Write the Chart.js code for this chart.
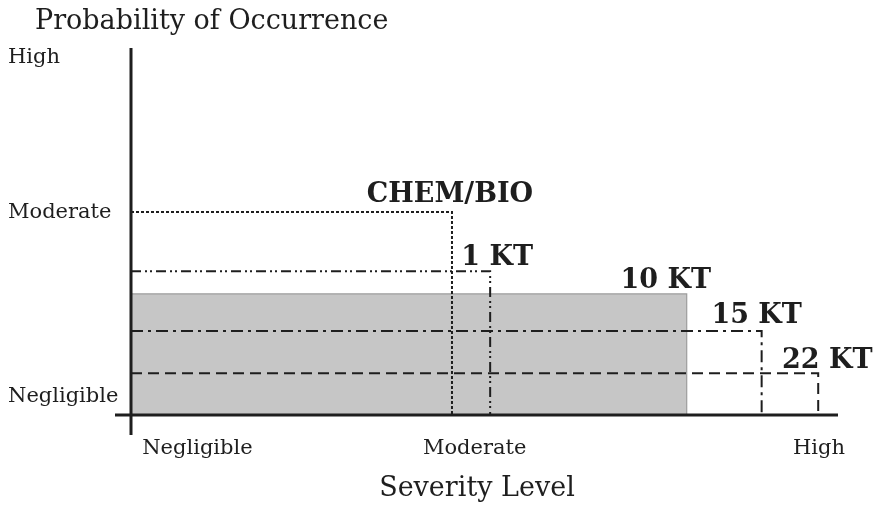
<!DOCTYPE html>
<html><head><meta charset="utf-8">
<script src="https://cdn.jsdelivr.net/npm/chart.js@4"></script>
<style>html,body{margin:0;padding:0;background:#fff}#wrap{width:877px;height:506px;position:relative}</style>
</head><body><div id="wrap"><canvas id="c"></canvas></div>
<script>
// ---- data ----
const threats = ['CHEM/BIO', '1 KT', '10 KT', '15 KT', '22 KT'];
const severity = [4.54, 5.08, 7.86, 8.92, 9.72];      // right edge of each region (severity)
const probability = [5.53, 3.92, 3.30, 2.29, 1.14];   // top edge of each region (probability)
const xTickLabels = ['Negligible', 'Moderate', 'High'];
const xTickValues = [0.94, 4.86, 9.73];
const yTickLabels = ['Negligible', 'Moderate', 'High'];
const yTickValues = [0.49, 5.53, 9.73];
const yTitle = 'Probability of Occurrence';
const xTitle = 'Severity Level';

// ---- styles ----
const INK = '#1e1e1e';
const SERIF = '"DejaVu Serif", "Liberation Serif", serif';
const dashes = [[3, 2], [10, 4, 2, 3, 2, 4], [], [12, 5, 3, 5], [11, 6]];
const labelDx = [-2, 7, -21, -5, 9];
const labelDy = [10, 6, 6, 8, 5];

const datasets = threats.map((name, i) => {
  const filled = name === '10 KT';
  return {
    label: name,
    data: [{x: 0, y: probability[i]}, {x: severity[i], y: probability[i]}, {x: severity[i], y: 0}],
    borderColor: filled ? '#9c9c9c' : INK,
    borderWidth: filled ? 1.2 : 2,
    borderDash: dashes[i],
    backgroundColor: '#c6c6c6',
    fill: filled ? 'origin' : false,
    pointRadius: 0,
    tension: 0,
    order: filled ? 99 : i,
    clip: false
  };
});

const decor = {
  id: 'decor',
  afterDatasetsDraw(chart) {
    const {ctx, chartArea: a, scales: {x, y}} = chart;
    ctx.save();
    ctx.strokeStyle = INK;
    ctx.lineWidth = 3;
    ctx.setLineDash([]);
    ctx.beginPath();
    ctx.moveTo(a.left, a.top); ctx.lineTo(a.left, a.bottom + 20);
    ctx.moveTo(a.left - 16, a.bottom); ctx.lineTo(a.right, a.bottom);
    ctx.stroke();
    // region labels
    ctx.fillStyle = INK;
    ctx.font = 'bold 27px ' + SERIF;
    ctx.textAlign = 'center';
    ctx.textBaseline = 'alphabetic';
    threats.forEach((name, i) => {
      const px = x.getPixelForValue(severity[i]) + labelDx[i];
      const py = y.getPixelForValue(probability[i]) - labelDy[i];
      ctx.fillText(name, px, py);
    });
    // axis titles
    ctx.font = '27px ' + SERIF;
    ctx.textAlign = 'left';
    ctx.textBaseline = 'middle';
    ctx.fillText(yTitle, 35, 22);
    ctx.textAlign = 'center';
    ctx.fillText(xTitle, 477, 489);
    ctx.restore();
  }
};

new Chart(document.getElementById('c'), {
  type: 'line',
  data: {datasets},
  options: {
    responsive: true,
    maintainAspectRatio: false,
    animation: false,
    events: [],
    layout: {padding: {left: 8, right: 39, top: 48, bottom: 0}},
    plugins: {legend: {display: false}, tooltip: {enabled: false}},
    scales: {
      x: {
        type: 'linear', min: 0, max: 10,
        grid: {display: false, drawTicks: false},
        border: {display: false},
        afterFit: s => { s.height = 91; },
        afterBuildTicks: s => { s.ticks = xTickValues.map(v => ({value: v})); },
        ticks: {
          autoSkip: false, maxRotation: 0, padding: 21, color: INK,
          font: {family: SERIF, size: 21},
          callback: (v, i) => xTickLabels[i]
        },
        title: {display: false, text: xTitle}
      },
      y: {
        type: 'linear', min: 0, max: 10,
        grid: {display: false, drawTicks: false},
        border: {display: false},
        afterFit: s => { s.width = 123; },
        afterBuildTicks: s => { s.ticks = yTickValues.map(v => ({value: v})); },
        ticks: {
          autoSkip: false, crossAlign: 'far', padding: 0, color: INK,
          font: {family: SERIF, size: 21},
          callback: (v, i) => yTickLabels[i]
        }
      }
    }
  },
  plugins: [decor]
});
</script>
</body></html>
